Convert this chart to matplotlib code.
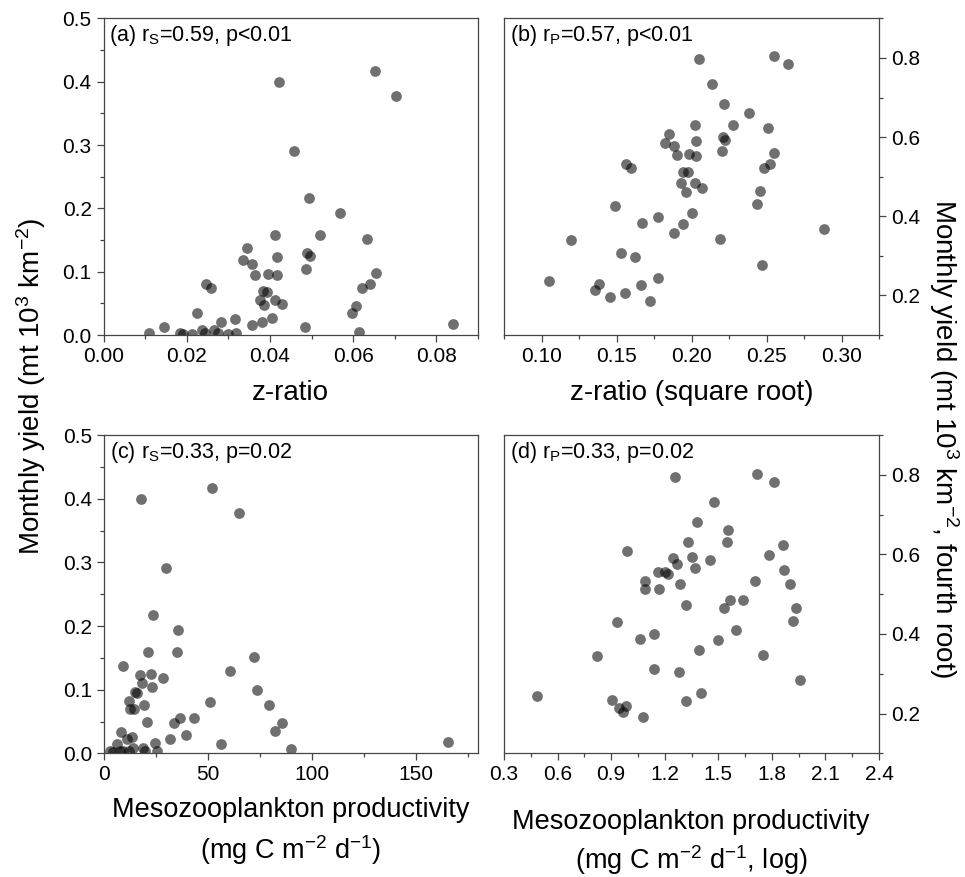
import matplotlib
matplotlib.use("Agg")
import matplotlib.pyplot as plt
from matplotlib.ticker import MultipleLocator

plt.rcParams["font.family"] = ["Liberation Sans", "DejaVu Sans"]
plt.rcParams["mathtext.fontset"] = "custom"
plt.rcParams["mathtext.rm"] = "Liberation Sans"
plt.rcParams["mathtext.it"] = "Liberation Sans:italic"

# (a) z-ratio vs monthly yield
zratio = [0.0422, 0.0652, 0.0702, 0.0458, 0.0493, 0.0569, 0.0411, 0.0521, 0.0632, 0.0345,
          0.0334, 0.0356, 0.0416, 0.0490, 0.0495, 0.0486, 0.0365, 0.0395, 0.0416, 0.0246,
          0.0258, 0.0382, 0.0394, 0.0376, 0.0386, 0.0411, 0.0430, 0.0654, 0.0641, 0.0621,
          0.0606, 0.0596, 0.0224, 0.0316, 0.0282, 0.0357, 0.0381, 0.0405, 0.0483, 0.0613,
          0.0840, 0.0146, 0.0110, 0.0184, 0.0192, 0.0213, 0.0237, 0.0245, 0.0266, 0.0274,
          0.0298, 0.0318]
yield_a = [0.400, 0.417, 0.378, 0.291, 0.216, 0.192, 0.158, 0.158, 0.152, 0.137,
           0.118, 0.112, 0.123, 0.130, 0.124, 0.104, 0.095, 0.097, 0.094, 0.081,
           0.075, 0.069, 0.068, 0.055, 0.047, 0.055, 0.049, 0.098, 0.080, 0.075,
           0.046, 0.034, 0.034, 0.025, 0.021, 0.016, 0.021, 0.027, 0.013, 0.005,
           0.017, 0.013, 0.003, 0.003, 0.001, 0.001, 0.008, 0.003, 0.008, 0.003,
           0.001, 0.003]

# (b) z-ratio (square root) vs yield (fourth root)
zratio_sqrt = [0.2047, 0.2547, 0.2644, 0.2136, 0.2216, 0.2380, 0.2024, 0.2278, 0.2511, 0.1851,
               0.1824, 0.1882, 0.2033, 0.2211, 0.2222, 0.2200, 0.1904, 0.1980, 0.2033, 0.2551,
               0.1562, 0.1598, 0.2482, 0.2522, 0.1944, 0.1978, 0.1931, 0.1962, 0.2022, 0.2073,
               0.2458, 0.2436, 0.1491, 0.1778, 0.2004, 0.1673, 0.1944, 0.1882, 0.2189, 0.2882,
               0.1198, 0.1533, 0.1622, 0.2469, 0.1049, 0.1384, 0.1356, 0.1456, 0.1556, 0.1662,
               0.1776, 0.1722]
yield_b = [0.796, 0.804, 0.785, 0.734, 0.683, 0.661, 0.631, 0.630, 0.624, 0.609,
           0.586, 0.577, 0.591, 0.599, 0.593, 0.565, 0.554, 0.557, 0.552, 0.559,
           0.532, 0.523, 0.523, 0.532, 0.511, 0.512, 0.483, 0.462, 0.483, 0.471,
           0.463, 0.430, 0.426, 0.398, 0.408, 0.383, 0.381, 0.357, 0.342, 0.367,
           0.340, 0.306, 0.297, 0.278, 0.237, 0.228, 0.214, 0.197, 0.206, 0.226,
           0.244, 0.185]

# (c) mesozooplankton productivity vs yield
meso = [52.2, 17.6, 64.9, 29.8, 23.7, 35.7, 21.3, 35.1, 72.4, 9.3,
        60.6, 17.3, 22.4, 18.3, 28.4, 23.2, 14.9, 15.7, 73.7, 12.2,
        19.1, 12.5, 14.6, 51.1, 79.3, 20.7, 33.7, 36.5, 43.4, 85.6,
        82.4, 8.3, 13.6, 11.1, 6.4, 39.4, 31.6, 24.7, 56.4, 90.2,
        165.5, 18.6, 14.1, 2.9, 7.7, 9.3, 12.0, 19.7, 25.3, 4.5]
yield_c = [0.417, 0.399, 0.377, 0.291, 0.217, 0.193, 0.159, 0.159, 0.152, 0.138,
           0.130, 0.123, 0.124, 0.111, 0.119, 0.104, 0.096, 0.095, 0.099, 0.082,
           0.076, 0.069, 0.069, 0.081, 0.076, 0.050, 0.048, 0.056, 0.055, 0.047,
           0.035, 0.034, 0.026, 0.023, 0.015, 0.029, 0.022, 0.017, 0.015, 0.007,
           0.018, 0.009, 0.009, 0.004, 0.004, 0.003, 0.003, 0.004, 0.004, 0.002]

# (d) productivity (log) vs yield (fourth root)
meso_log = [1.255, 1.716, 1.812, 1.476, 1.379, 1.555, 1.547, 1.330, 1.860, 0.987,
            1.785, 1.244, 1.270, 1.355, 1.454, 1.369, 1.163, 1.204, 1.221, 1.868,
            1.087, 1.087, 1.169, 1.285, 1.708, 1.900, 1.319, 1.566, 1.531, 1.639,
            1.937, 1.916, 0.935, 1.141, 1.064, 1.598, 1.501, 1.394, 0.819, 1.752,
            1.141, 1.281, 1.958, 0.487, 0.905, 0.944, 0.984, 0.967, 1.077, 1.319,
            1.403]
yield_d = [0.794, 0.802, 0.782, 0.732, 0.681, 0.661, 0.630, 0.630, 0.624, 0.608,
           0.598, 0.592, 0.577, 0.594, 0.587, 0.567, 0.556, 0.557, 0.551, 0.560,
           0.534, 0.512, 0.514, 0.525, 0.533, 0.525, 0.473, 0.485, 0.466, 0.485,
           0.465, 0.433, 0.430, 0.401, 0.387, 0.411, 0.385, 0.361, 0.344, 0.346,
           0.313, 0.304, 0.284, 0.244, 0.234, 0.215, 0.220, 0.203, 0.192, 0.232,
           0.251]

labels = ["(a) r$_\\mathregular{S}$=0.59, p<0.01", "(b) r$_\\mathregular{P}$=0.57, p<0.01",
          "(c) r$_\\mathregular{S}$=0.33, p=0.02", "(d) r$_\\mathregular{P}$=0.33, p=0.02"]

fig = plt.figure(figsize=(9.65, 8.77), dpi=100)
ax_a = fig.add_axes([0.1073, 0.6180, 0.3881, 0.3611])
ax_b = fig.add_axes([0.5223, 0.6180, 0.3886, 0.3611])
ax_c = fig.add_axes([0.1078, 0.1410, 0.3876, 0.3629])
ax_d = fig.add_axes([0.5223, 0.1410, 0.3886, 0.3629])

pts = dict(s=60, color="black", alpha=0.56, linewidths=0)
ax_a.scatter(zratio, yield_a, **pts)
ax_b.scatter(zratio_sqrt, yield_b, **pts)
ax_c.scatter(meso, yield_c, **pts)
ax_d.scatter(meso_log, yield_d, **pts)

ax_a.set_xlim(0, 0.09)
ax_a.xaxis.set_major_locator(MultipleLocator(0.02))
ax_a.xaxis.set_minor_locator(MultipleLocator(0.01))
ax_a.xaxis.set_major_formatter(plt.FormatStrFormatter("%.2f"))
ax_b.set_xlim(0.075, 0.325)
ax_b.xaxis.set_major_locator(MultipleLocator(0.05))
ax_b.xaxis.set_minor_locator(MultipleLocator(0.025))
ax_b.xaxis.set_major_formatter(plt.FormatStrFormatter("%.2f"))
ax_c.set_xlim(0, 180)
ax_c.xaxis.set_major_locator(MultipleLocator(50))
ax_c.xaxis.set_minor_locator(MultipleLocator(25))
ax_d.set_xlim(0.3, 2.4)
ax_d.xaxis.set_major_locator(MultipleLocator(0.3))
ax_d.xaxis.set_minor_locator(MultipleLocator(0.15))
ax_d.xaxis.set_major_formatter(plt.FormatStrFormatter("%.1f"))

for ax in (ax_a, ax_c):
    ax.set_ylim(0, 0.5)
    ax.yaxis.set_major_locator(MultipleLocator(0.1))
    ax.yaxis.set_minor_locator(MultipleLocator(0.05))
    ax.yaxis.set_major_formatter(plt.FormatStrFormatter("%.1f"))
for ax in (ax_b, ax_d):
    ax.set_ylim(0.1, 0.9)
    ax.yaxis.set_major_locator(MultipleLocator(0.2))
    ax.yaxis.set_minor_locator(MultipleLocator(0.1))
    ax.yaxis.set_major_formatter(plt.FormatStrFormatter("%.1f"))
    ax.yaxis.tick_right()

for ax, lab in zip((ax_a, ax_b, ax_c, ax_d), labels):
    for sp in ax.spines.values():
        sp.set_color("#444444")
        sp.set_linewidth(0.9)
    ax.tick_params(which="both", direction="out", colors="#444444", labelcolor="black",
                   labelsize=15, width=0.9)
    ax.tick_params(which="major", length=5)
    ax.tick_params(which="minor", length=3)
    ax.text(0.015, 0.985, lab, transform=ax.transAxes, ha="left", va="top", fontsize=15.5)

ax_a.set_xlabel("z-ratio", fontsize=20, labelpad=10)
ax_b.set_xlabel("z-ratio (square root)", fontsize=20, labelpad=10)

# two-line x labels of the bottom panels, placed in figure pixels
fig.text(291 / 965, 1 - 810 / 877, "Mesozooplankton productivity", ha="center", va="center", fontsize=19.5)
fig.text(291 / 965, 1 - 850 / 877, "(mg C m$^{-2}$ d$^{-1}$)", ha="center", va="center", fontsize=19.5)
fig.text(691 / 965, 1 - 822 / 877, "Mesozooplankton productivity", ha="center", va="center", fontsize=19.5)
fig.text(691 / 965, 1 - 860 / 877, "(mg C m$^{-2}$ d$^{-1}$, log)", ha="center", va="center", fontsize=19.5)

fig.text(0.032, 0.56, "Monthly yield (mt 10$^3$ km$^{-2}$)", rotation=90,
         ha="center", va="center", fontsize=20)
fig.text(0.978, 0.50, "Monthly yield (mt 10$^3$ km$^{-2}$, fourth root)", rotation=-90,
         ha="center", va="center", fontsize=20)

plt.savefig("out.png", dpi=100)
plt.close("all")
